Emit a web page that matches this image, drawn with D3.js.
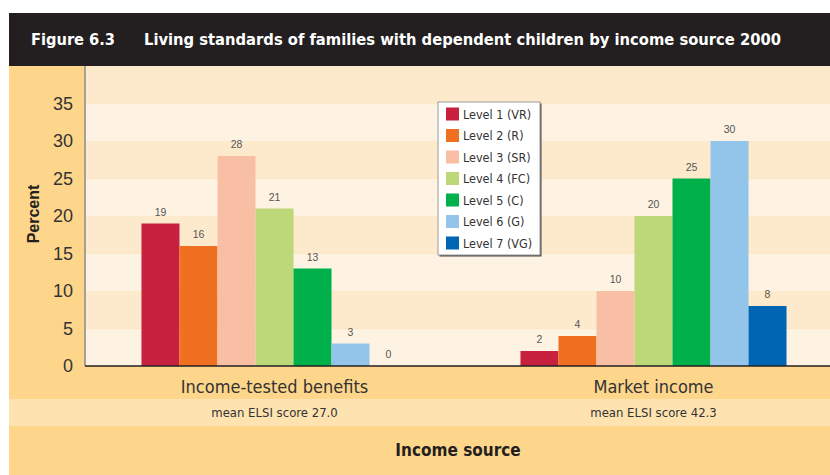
<!DOCTYPE html>
<html>
<head>
<meta charset="utf-8">
<script src="https://cdn.jsdelivr.net/npm/d3@7"></script>
<style>
  html, body { margin: 0; padding: 0; background: #ffffff; }
  svg { display: block; }
  .narrow { font-family: "Liberation Sans Narrow", "Arial Narrow", "DejaVu Sans Condensed", "Liberation Sans", sans-serif; }
  .plain { font-family: "Liberation Sans", Arial, sans-serif; }
</style>
</head>
<body>
<svg id="chart" width="830" height="475"></svg>
<script>
// Income sources (x groups) and the seven living-standard levels (series)
const categories = ["Income-tested benefits", "Market income"];
const levels = ["Level 1 (VR)", "Level 2 (R)", "Level 3 (SR)", "Level 4 (FC)", "Level 5 (C)", "Level 6 (G)", "Level 7 (VG)"];
const incomeTestedValues = [19, 16, 28, 21, 13, 3, 0];
const marketIncomeValues = [2, 4, 10, 20, 25, 30, 8];
const elsiLabels = ["mean ELSI score 27.0", "mean ELSI score 42.3"];
const yTicks = [0, 5, 10, 15, 20, 25, 30, 35];
const levelColors = ["#c8213f", "#f07021", "#f9bfa5", "#bcd878", "#00b04b", "#93c5ea", "#0066b3"];

const seriesByCategory = [incomeTestedValues, marketIncomeValues];

const W = 830, H = 475;
const frameLeft = 9, titleTop = 13, titleBottom = 66;
const plotLeft = 85, plotRight = 843, plotTop = 66, plotBottom = 366;

const svg = d3.select("#chart");

// frame background
svg.append("rect").attr("x", frameLeft).attr("y", titleBottom)
  .attr("width", W - frameLeft).attr("height", H - titleBottom).attr("fill", "#fed68b");

// title bar
svg.append("rect").attr("x", frameLeft).attr("y", titleTop)
  .attr("width", W - frameLeft).attr("height", titleBottom - titleTop).attr("fill", "#231f20");
svg.append("text").attr("class", "narrow").attr("x", 31).attr("y", 45)
  .attr("fill", "#ffffff").attr("font-size", 16.5).attr("font-weight", "bold")
  .attr("textLength", 84).attr("lengthAdjust", "spacingAndGlyphs")
  .text("Figure 6.3");
svg.append("text").attr("class", "narrow").attr("x", 144).attr("y", 45)
  .attr("fill", "#ffffff").attr("font-size", 16.5).attr("font-weight", "bold")
  .attr("textLength", 637).attr("lengthAdjust", "spacingAndGlyphs")
  .text("Living standards of families with dependent children by income source 2000");

// scales
const y = d3.scaleLinear().domain([0, 40]).range([plotBottom, plotTop]);
const x0 = d3.scaleBand().domain(categories).range([plotLeft, plotRight])
  .paddingInner(0.298).paddingOuter(0.149);
const x1 = d3.scaleBand().domain(levels).range([0, x0.bandwidth()]);
const color = d3.scaleOrdinal().domain(levels).range(levelColors);

// alternating horizontal bands
const plot = svg.append("g");
plot.append("clipPath").attr("id", "plotClip").append("rect")
  .attr("x", plotLeft).attr("y", plotTop).attr("width", W - plotLeft).attr("height", plotBottom - plotTop);
const bandStarts = d3.range(0, 40, 5);
plot.append("g").attr("clip-path", "url(#plotClip)")
  .selectAll("rect").data(bandStarts).join("rect")
  .attr("x", plotLeft).attr("width", W - plotLeft)
  .attr("y", d => y(d + 5)).attr("height", d => y(d) - y(d + 5))
  .attr("fill", (d, i) => i % 2 === 0 ? "#fef3e3" : "#fdeacd");

// ELSI band under the axis
svg.append("rect").attr("x", frameLeft).attr("y", 399)
  .attr("width", W - frameLeft).attr("height", 27).attr("fill", "#fee2b0");

// bars
const groups = svg.append("g").selectAll("g").data(categories).join("g")
  .attr("transform", d => `translate(${x0(d)},0)`);
groups.selectAll("rect")
  .data((c, ci) => levels.map((l, li) => ({ level: l, value: seriesByCategory[ci][li] })))
  .join("rect")
  .attr("x", d => x1(d.level)).attr("width", x1.bandwidth())
  .attr("y", d => y(d.value)).attr("height", d => y(0) - y(d.value))
  .attr("fill", d => color(d.level));
groups.selectAll("text")
  .data((c, ci) => levels.map((l, li) => ({ level: l, value: seriesByCategory[ci][li] })))
  .join("text").attr("class", "plain")
  .attr("x", d => x1(d.level) + x1.bandwidth() / 2)
  .attr("y", d => y(d.value) - 8)
  .attr("text-anchor", "middle").attr("font-size", 10.5).attr("fill", "#555")
  .text(d => d.value);

// y axis
const yAxis = svg.append("g").attr("transform", `translate(${plotLeft},0)`)
  .call(d3.axisLeft(y).tickValues(yTicks).tickSize(0).tickPadding(12));
yAxis.select(".domain").remove();
yAxis.selectAll("text").attr("class", "plain").attr("font-size", 18).attr("fill", "#333")
  .attr("font-family", null);
svg.append("line").attr("x1", plotLeft).attr("x2", plotLeft)
  .attr("y1", plotTop).attr("y2", plotBottom).attr("stroke", "#8a8a8a").attr("stroke-width", 1.5);

// y axis title
svg.append("text").attr("class", "plain")
  .attr("transform", `translate(39,214) rotate(-90)`)
  .attr("text-anchor", "middle").attr("font-size", 16).attr("font-weight", "bold").attr("fill", "#231f20")
  .text("Percent");

// x axis
const xAxis = svg.append("g").attr("transform", `translate(0,${plotBottom})`)
  .call(d3.axisBottom(x0).tickSize(0).tickPadding(14));
xAxis.select(".domain").remove();
xAxis.selectAll("text").attr("class", "narrow").attr("font-family", null)
  .attr("font-size", 18).attr("fill", "#333");
svg.append("line").attr("x1", plotLeft).attr("x2", W)
  .attr("y1", plotBottom).attr("y2", plotBottom).attr("stroke", "#231f20").attr("stroke-width", 1.5);

// ELSI labels
svg.append("g").selectAll("text").data(categories).join("text").attr("class", "narrow")
  .attr("x", d => x0(d) + x0.bandwidth() / 2).attr("y", 417)
  .attr("text-anchor", "middle").attr("font-size", 13).attr("fill", "#333")
  .text((d, i) => elsiLabels[i]);

// x axis title
svg.append("text").attr("class", "narrow").attr("x", 458).attr("y", 456)
  .attr("text-anchor", "middle").attr("font-size", 17).attr("font-weight", "bold").attr("fill", "#231f20")
  .text("Income source");

// legend
const legend = svg.append("g").attr("transform", "translate(438,102)");
legend.append("rect").attr("x", 1.5).attr("y", 1.5).attr("width", 102).attr("height", 153).attr("fill", "#444");
legend.append("rect").attr("width", 102).attr("height", 153).attr("fill", "#ffffff")
  .attr("stroke", "#9a9a9a").attr("stroke-width", 1);
const item = legend.selectAll("g.item").data(levels).join("g").attr("class", "item")
  .attr("transform", (d, i) => `translate(8,${12 + i * 21.5 - 6.5})`);
item.append("rect").attr("width", 13).attr("height", 13).attr("fill", d => color(d));
item.append("text").attr("class", "narrow").attr("x", 17).attr("y", 11)
  .attr("font-size", 12.5).attr("fill", "#333").text(d => d);
</script>
</body>
</html>
